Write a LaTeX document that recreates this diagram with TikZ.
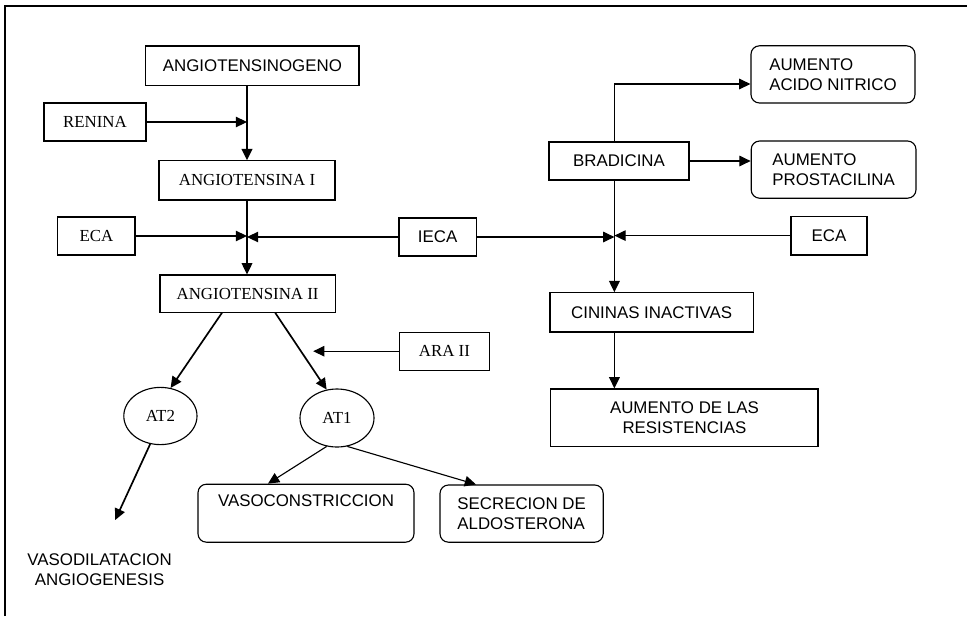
\documentclass[tikz,border=0pt]{standalone}
\usepackage{fontspec}
\setmainfont{Liberation Sans}
\newfontfamily\timesfont{Liberation Serif}
\usepackage{tikz}
\usetikzlibrary{arrows.meta,positioning,shapes}
\tikzset{
    texto/.style={font=\fontsize{12}{14}\selectfont},
    caja/.style={draw, line width=0.8pt, inner sep=2pt, texto},
    cajat/.style={caja, font=\fontsize{12}{14}\timesfont},
    cajar/.style={caja, rounded corners=6pt},
    ovalo/.style={draw, ellipse, line width=0.8pt, inner sep=0pt, font=\fontsize{12}{14}\timesfont},
    flecha/.style={-{Triangle[length=8pt,width=7.5pt]}, line width=1.2pt},
    flechaf/.style={-{Triangle[length=8pt,width=7.5pt]}, line width=0.8pt}
}

\begin{document}
\begin{tikzpicture}
\useasboundingbox (0,0) rectangle (24.175,-15.4);
\draw[line width=0.8pt] (0.125,-15.4) -- (0.125,-0.15) -- (24.175,-0.15);

% sistema renina angiotensina
\node[caja, minimum width=5.33cm, minimum height=0.98cm] (angiogeno) at (6.31,-1.64) {ANGIOTENSINOGENO};
\node[cajat, minimum width=2.55cm, minimum height=0.95cm] (renina) at (2.375,-3.05) {RENINA};
\node[cajat, minimum width=4.4cm, minimum height=0.98cm] (angI) at (6.175,-4.51) {ANGIOTENSINA I};
\node[cajat, minimum width=1.93cm, minimum height=0.95cm] (ecaL) at (2.41,-5.9) {ECA};
\node[caja, minimum width=1.93cm, minimum height=0.95cm] (ieca) at (10.94,-5.925) {IECA};
\node[cajat, minimum width=4.38cm, minimum height=0.93cm] (angII) at (6.19,-7.34) {ANGIOTENSINA II};
\node[cajat, minimum width=2.25cm, minimum height=0.95cm] (ara) at (11.11,-8.78) {ARA II};
\node[ovalo, minimum width=1.83cm, minimum height=1.43cm] (at2) at (4.01,-10.4) {AT2};
\node[ovalo, minimum width=1.85cm, minimum height=1.45cm] (at1) at (8.425,-10.45) {AT1};
\node[cajar, minimum width=5.4cm, minimum height=1.45cm, align=center] (vasocon) at (7.65,-12.83) {VASOCONSTRICCION\\\strut};
\node[cajar, minimum width=4.08cm, minimum height=1.43cm, align=left] (secre) at (13.04,-12.84) {SECRECION DE\\ALDOSTERONA};
\node[texto, align=center] (vaso) at (2.49,-14.25) {VASODILATACION\\ANGIOGENESIS};

% bradicinina
\node[caja, minimum width=3.5cm, minimum height=0.95cm] (bradi) at (15.475,-4.025) {BRADICINA};
\node[cajar, minimum width=4.1cm, minimum height=1.43cm, align=left] (nitrico) at (20.825,-1.86) {AUMENTO\\ACIDO NITRICO};
\node[cajar, minimum width=4.12cm, minimum height=1.43cm, align=left] (prosta) at (20.84,-4.24) {AUMENTO\\PROSTACILINA};
\node[caja, minimum width=1.9cm, minimum height=0.97cm] (ecaR) at (20.725,-5.89) {ECA};
\node[caja, minimum width=5.08cm, minimum height=0.98cm] (cininas) at (16.29,-7.81) {CININAS INACTIVAS};
\node[caja, minimum width=6.68cm, minimum height=1.43cm, align=center] (resist) at (17.11,-10.44) {AUMENTO DE LAS\\RESISTENCIAS};

\coordinate (bx) at (15.36,0);
\coordinate (araend) at (7.83,-8.78);
\coordinate (vasoend) at (2.88,-13.0);

\draw[flecha] (angI.north |- angiogeno.south) -- (angI.north);
\draw[flechaf] (renina) -- (renina -| angI.north);
\draw[flecha] (angI.south) -- (angI.south |- angII.north);
\draw[flechaf] (ecaL) -- (ecaL -| angI.south);
\draw[flechaf] (ieca) -- (ieca -| angI.south);
\draw[flechaf] (ieca) -- (ieca -| bx);
\draw[flechaf] (ecaR) -- (ecaR -| bx);
\draw[flecha] (bx |- bradi.south) -- (bx |- cininas.north);
\draw[flecha] (bx |- cininas.south) -- (bx |- resist.north);
\draw[flechaf] (bx |- bradi.north) |- ([yshift=-0.24cm]nitrico.west);
\draw[flechaf] (bradi.east) -- (bradi.east -| prosta.west);
\draw[flecha] ([xshift=-0.64cm]angII.south) -- (at2.70);
\draw[flecha] ([xshift=0.69cm]angII.south) -- (at1.110);
\draw[flechaf] (ara) -- (araend);
\draw[flecha] (at2.250) -- (vasoend);
\draw[flechaf] (at1.250) -- ([xshift=-0.95cm]vasocon.north);
\draw[flechaf] (at1.290) -- ([xshift=-1.14cm]secre.north);
\end{tikzpicture}
\end{document}
